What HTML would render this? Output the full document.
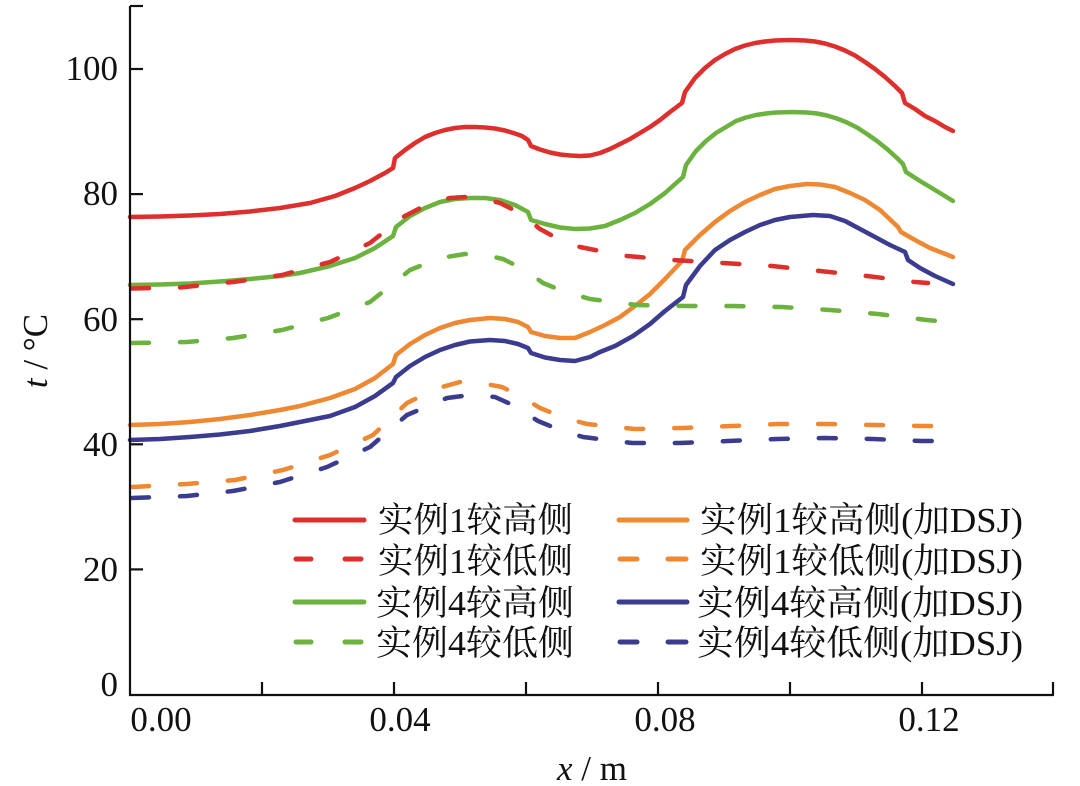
<!DOCTYPE html>
<html>
<head>
<meta charset="utf-8">
<style>
html,body{margin:0;padding:0;background:#fff;}
svg{display:block;}
text{font-family:"Liberation Serif","Noto Serif CJK SC",serif;fill:#111;}
</style>
</head>
<body>
<svg width="1080" height="786" viewBox="0 0 1080 786" xmlns="http://www.w3.org/2000/svg">
<rect width="1080" height="786" fill="#fff"/>

<!-- series -->
<g fill="none" stroke-width="4.5" stroke-linejoin="round" stroke-linecap="round">
<!-- red solid -->
<polyline stroke="#dd2f2c" points="130,217 160,216.5 190,215.5 220,214 250,211.5 280,208 310,203 335,196 355,188 370,181 385,173 393,168 395,158 405,150 415,143 425,137 435,133 445,130 455,128 465,127 475,127 485,127.5 495,128.5 505,130.5 515,133.5 522,136 528,140 531,146 540,149.5 550,152.5 560,154.5 570,155.5 580,156 590,155.5 600,153 610,149 620,144 630,139 640,133 650,127 660,120 670,112 682,103 685,92 695,78 705,68 715,60 725,54 735,49 745,45.5 755,43 765,41.5 775,40.5 790,40 805,40.5 815,41.5 825,43.5 835,46.5 845,50.5 855,55.5 865,62 875,69 885,77 895,86 902,93 905,103 915,109 925,116 935,121 945,127 953,131"/>
<!-- green solid -->
<polyline stroke="#6cb23e" points="130,285 160,284.5 190,283.5 220,281.5 250,279 280,276 300,273 330,266 355,258 375,248 393,236 396,227 410,216 425,208 440,202 455,199 470,198 485,198 500,200 515,205 528,212 531,220 545,224 560,227.5 575,229 590,228.5 605,226 620,220 635,213 650,204 665,193 683,177 686,165 696,151 706,141 716,133 726,127 736,121 746,117.5 756,115 766,113.5 776,112.5 792,112 807,112.5 817,113.5 827,115.5 837,118.5 847,122.5 857,127.5 867,134 877,141 887,149 897,158 903,164 906,172 920,181 935,190 953,201"/>
<!-- orange solid -->
<polyline stroke="#ee8833" points="130,425 160,424 190,422 220,419 250,415 280,410 300,406 330,398 355,389 375,378 393,364 396,355 410,344 425,335 440,328 455,323 470,320 490,318 505,319 518,322 528,327 531,332 545,336 560,338 575,338 590,332 605,325 620,317 635,306 650,294 665,279 682,261 685,250 700,235 715,222 730,211 745,202 760,195 775,189 790,186 807,184 820,184.5 835,187 850,193 865,200 880,210 898,227 901,232 915,240 930,248 953,257"/>
<!-- blue solid -->
<polyline stroke="#3b3b8f" points="130,440 160,439 190,437 220,434.5 250,431 280,426 300,422 330,416 355,407 375,396 393,383 396,377 410,366 425,357 440,350 455,345 470,341.5 490,340 505,341 518,344 528,348 531,353 545,357.5 560,360 575,361 590,357 600,352 615,346 633,336 650,324 665,311 683,297 686,285 700,266 715,250 730,240 745,232 760,225 775,220 790,217 813,215 830,216 845,221 860,229 875,237 890,245 905,252 908,260 920,268 935,276 953,284"/>
</g>

<g fill="none" stroke-width="4.5" stroke-linejoin="round" stroke-linecap="round" stroke-dasharray="17 31">
<!-- red dashed -->
<polyline stroke="#dd2f2c" points="132,288.5 180,287.5 233,282 282,275 330,262 370,243 403,217 430,203 450,198 465,197 480,198 500,203 520,213 540,229 560,240 580,247 600,251 627,256 673,260 723,263 772,266 820,271 867,276 915,282 928,283"/>
<!-- green dashed -->
<polyline stroke="#6cb23e" points="132,343 187,342 233,338 282,330 328,318 370,302 410,270 440,258 465,254 485,255 503,259 525,270 543,283 565,292 590,299 637,305 685,306 733,306 782,307 830,310 878,314 927,320 937,321"/>
<!-- orange dashed -->
<polyline stroke="#ee8833" points="132,487 187,484 235,480 283,470 330,455 373,435 407,403 435,389 460,382 480,383 502,387 520,396 540,408 565,418 587,424 635,429 683,428 732,426 778,424 827,424 875,425 923,426 937,426"/>
<!-- blue dashed -->
<polyline stroke="#3b3b8f" points="132,498 187,496 233,491 280,482 327,467 370,447 407,415 447,398 470,395 495,397 515,406 538,421 560,430 583,437 632,443 680,443 728,441 777,439 825,438 873,439 922,441 937,441"/>
</g>

<!-- axes -->
<g stroke="#111" stroke-width="2.2" fill="none">
<polyline points="130,6 130,695 1054,695"/>
<line x1="130" y1="6" x2="143" y2="6"/>
<line x1="130" y1="69" x2="143" y2="69"/>
<line x1="130" y1="194.1" x2="143" y2="194.1"/>
<line x1="130" y1="319.2" x2="143" y2="319.2"/>
<line x1="130" y1="444.3" x2="143" y2="444.3"/>
<line x1="130" y1="569.4" x2="143" y2="569.4"/>
<line x1="262" y1="695" x2="262" y2="682"/>
<line x1="394" y1="695" x2="394" y2="682"/>
<line x1="526" y1="695" x2="526" y2="682"/>
<line x1="658" y1="695" x2="658" y2="682"/>
<line x1="790" y1="695" x2="790" y2="682"/>
<line x1="922" y1="695" x2="922" y2="682"/>
<line x1="1053" y1="695" x2="1053" y2="682"/>
</g>

<!-- y tick labels -->
<g font-size="35" text-anchor="end">
<text x="118" y="80">100</text>
<text x="118" y="205">80</text>
<text x="118" y="331">60</text>
<text x="118" y="456">40</text>
<text x="118" y="581">20</text>
<text x="118" y="696">0</text>
</g>
<!-- x tick labels -->
<g font-size="35" text-anchor="middle">
<text x="161" y="731">0.00</text>
<text x="400" y="731">0.04</text>
<text x="665" y="731">0.08</text>
<text x="929" y="731">0.12</text>
</g>

<!-- axis titles -->
<text x="592" y="780" font-size="35" text-anchor="middle"><tspan font-style="italic">x</tspan> / m</text>
<text transform="translate(47,351) rotate(-90)" font-size="35" text-anchor="middle"><tspan font-style="italic">t</tspan> / °C</text>

<!-- legend -->
<g stroke-width="5" stroke-linecap="round">
<line x1="295" y1="520" x2="364" y2="520" stroke="#dd2f2c"/>
<line x1="296" y1="559" x2="311" y2="559" stroke="#dd2f2c"/>
<line x1="345" y1="559" x2="361" y2="559" stroke="#dd2f2c"/>
<line x1="295" y1="602" x2="364" y2="602" stroke="#6cb23e"/>
<line x1="296" y1="642" x2="311" y2="642" stroke="#6cb23e"/>
<line x1="345" y1="642" x2="361" y2="642" stroke="#6cb23e"/>

<line x1="619" y1="520" x2="687" y2="520" stroke="#ee8833"/>
<line x1="620" y1="559" x2="637" y2="559" stroke="#ee8833"/>
<line x1="668" y1="559" x2="686" y2="559" stroke="#ee8833"/>
<line x1="619" y1="602" x2="687" y2="602" stroke="#3b3b8f"/>
<line x1="620" y1="642" x2="637" y2="642" stroke="#3b3b8f"/>
<line x1="668" y1="642" x2="686" y2="642" stroke="#3b3b8f"/>
</g>
<g font-size="35">
<text x="378" y="532" textLength="195" lengthAdjust="spacingAndGlyphs">实例1较高侧</text>
<text x="378" y="573" textLength="195" lengthAdjust="spacingAndGlyphs">实例1较低侧</text>
<text x="376" y="615" textLength="198" lengthAdjust="spacingAndGlyphs">实例4较高侧</text>
<text x="376" y="655" textLength="198" lengthAdjust="spacingAndGlyphs">实例4较低侧</text>
<text x="700" y="532" textLength="323" lengthAdjust="spacingAndGlyphs">实例1较高侧(加DSJ)</text>
<text x="700" y="573" textLength="323" lengthAdjust="spacingAndGlyphs">实例1较低侧(加DSJ)</text>
<text x="697" y="615" textLength="326" lengthAdjust="spacingAndGlyphs">实例4较高侧(加DSJ)</text>
<text x="697" y="655" textLength="326" lengthAdjust="spacingAndGlyphs">实例4较低侧(加DSJ)</text>
</g>
</svg>
</body>
</html>
